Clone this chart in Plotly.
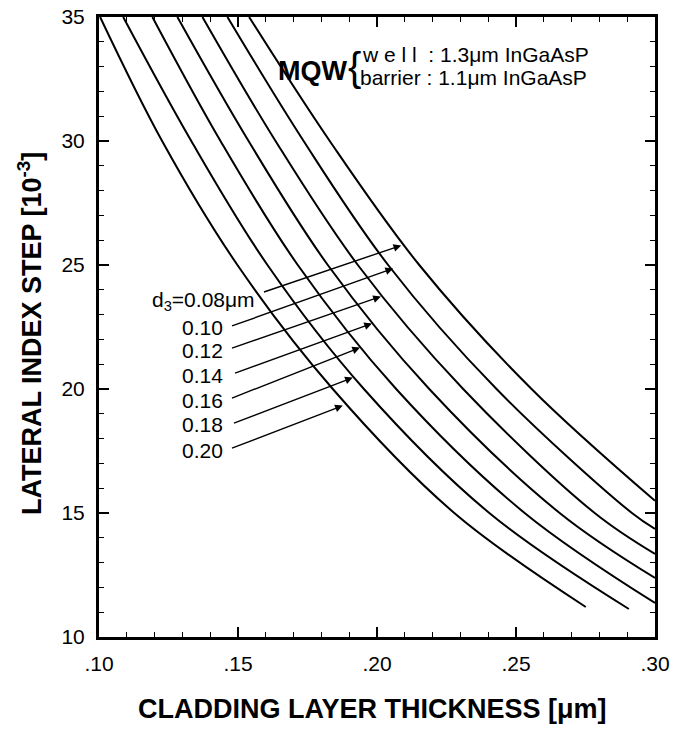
import plotly.graph_objects as go

# ---- data ----
d3_labels = ["0.08", "0.10", "0.12", "0.14", "0.16", "0.18", "0.20"]

x_008 = [0.1540, 0.1830, 0.2152, 0.2556, 0.3000]
y_008 = [35.0, 30.0, 25.0, 20.0, 15.49]

x_010 = [0.1462, 0.1736, 0.2040, 0.2430, 0.2917, 0.3000]
y_010 = [35.0, 30.0, 25.0, 20.0, 15.0, 14.36]

x_012 = [0.1372, 0.1635, 0.1931, 0.2310, 0.2783, 0.3000]
y_012 = [35.0, 30.0, 25.0, 20.0, 15.0, 13.35]

x_014 = [0.1282, 0.1538, 0.1823, 0.2188, 0.2657, 0.3000]
y_014 = [35.0, 30.0, 25.0, 20.0, 15.0, 12.38]

x_016 = [0.1192, 0.1437, 0.1715, 0.2069, 0.2531, 0.3000]
y_016 = [35.0, 30.0, 25.0, 20.0, 15.0, 11.37]

x_018 = [0.1087, 0.1332, 0.1606, 0.1953, 0.2404, 0.2906]
y_018 = [35.0, 30.0, 25.0, 20.0, 15.0, 11.13]

x_020 = [0.1004, 0.1227, 0.1498, 0.1841, 0.2278, 0.2751]
y_020 = [35.0, 30.0, 25.0, 20.0, 15.0, 11.21]

x_tickvals = [0.10, 0.15, 0.20, 0.25, 0.30]
x_ticktext = [".10", ".15", ".20", ".25", ".30"]
y_tickvals = [10, 15, 20, 25, 30, 35]

series_x = [x_008, x_010, x_012, x_014, x_016, x_018, x_020]
series_y = [y_008, y_010, y_012, y_014, y_016, y_018, y_020]

# ---- annotation layout (label anchor and arrow tail/tip, data units) ----
label_pos = [(0.1570, 23.53), (0.1455, 22.48), (0.1455, 21.55), (0.1455, 20.54),
             (0.1455, 19.53), (0.1455, 18.56), (0.1455, 17.51)]
arrow_tail = [(0.1588, 23.89), (0.1473, 22.52), (0.1473, 21.63), (0.1484, 20.62),
              (0.1473, 19.61), (0.1480, 18.60), (0.1473, 17.59)]
arrow_tip = [(0.2087, 25.79), (0.2058, 24.86), (0.2014, 23.73), (0.1982, 22.64),
             (0.1939, 21.67), (0.1913, 20.46), (0.1877, 19.33)]

FONT = "Liberation Sans, Arial, Helvetica, sans-serif"
W, H = 673, 729
L, R, T, B = 99, 18, 17, 92


def px2paper(px, py):
    return (px - L) / (W - L - R), 1 - (py - T) / (H - T - B)


fig = go.Figure()
for lab, xs, ys in zip(d3_labels, series_x, series_y):
    fig.add_trace(go.Scatter(x=xs, y=ys, mode="lines", name=lab,
                             line=dict(color="black", width=2, shape="spline"),
                             showlegend=False, hoverinfo="skip"))

annotations = []
for i, lab in enumerate(d3_labels):
    txt = "d<sub>3</sub>=" + lab + "\u03bcm" if i == 0 else lab
    annotations.append(dict(x=label_pos[i][0], y=label_pos[i][1], xref="x", yref="y",
                            text=txt, showarrow=False, xanchor="right", yanchor="middle",
                            font=dict(family=FONT, size=21, color="black")))
    annotations.append(dict(x=arrow_tip[i][0], y=arrow_tip[i][1], xref="x", yref="y",
                            ax=arrow_tail[i][0], ay=arrow_tail[i][1], axref="x", ayref="y",
                            text=" ", showarrow=True, arrowhead=2, arrowsize=1.1,
                            arrowwidth=1.4, arrowcolor="black", standoff=0, startstandoff=0,
                            font=dict(size=1)))

# MQW legend text
mqw = [
    dict(text="<b>MQW</b>", px=349, py=71, size=27, anchor="right"),
    dict(text="{", px=346, py=67, size=40, anchor="left"),
    dict(text="w e l l  : 1.3\u03bcm InGaAsP", px=360, py=55, size=21, anchor="left"),
    dict(text="barrier : 1.1\u03bcm InGaAsP", px=358, py=77, size=21, anchor="left"),
]
for m in mqw:
    xp, yp = px2paper(m["px"], m["py"])
    annotations.append(dict(
        x=xp, y=yp, xref="paper", yref="paper", text=m["text"], showarrow=False,
        xanchor=m["anchor"], yanchor="middle",
        font=dict(family=FONT, size=m["size"], color="black")))

# axis titles
xp, yp = px2paper(372, 709)
annotations.append(dict(x=xp, y=yp, xref="paper", yref="paper",
                        text="<b>CLADDING LAYER THICKNESS [\u03bcm]</b>", showarrow=False,
                        xanchor="center", yanchor="middle",
                        font=dict(family=FONT, size=27, color="black")))
xp, yp = px2paper(30, 334)
annotations.append(dict(x=xp, y=yp, xref="paper", yref="paper",
                        text="<b>LATERAL INDEX STEP [10<sup>-3</sup>]</b>", showarrow=False,
                        xanchor="center", yanchor="middle", textangle=-90,
                        font=dict(family=FONT, size=27, color="black")))

fig.update_layout(
    width=W, height=H,
    margin=dict(l=L, r=R, t=T, b=B, autoexpand=False),
    plot_bgcolor="white", paper_bgcolor="white",
    font=dict(family=FONT, color="black"),
    annotations=annotations,
    xaxis=dict(range=[0.10, 0.30], tickvals=x_tickvals, ticktext=x_ticktext,
               ticks="inside", ticklen=10, tickwidth=1.5, tickcolor="black",
               showline=True, linewidth=3, linecolor="black", mirror="allticks",
               showgrid=False, zeroline=False, ticklabelstandoff=6, automargin=False,
               tickfont=dict(family=FONT, size=21),
               minor=dict(ticks="inside", ticklen=5, tickwidth=1, dtick=0.01,
                          tickcolor="black", showgrid=False)),
    yaxis=dict(range=[10, 35], tickvals=y_tickvals,
               ticks="inside", ticklen=10, tickwidth=1.5, tickcolor="black",
               showline=True, linewidth=3, linecolor="black", mirror="allticks",
               showgrid=False, zeroline=False, ticklabelstandoff=7, automargin=False,
               tickfont=dict(family=FONT, size=21),
               minor=dict(ticks="inside", ticklen=5, tickwidth=1, dtick=1,
                          tickcolor="black", showgrid=False)),
)

fig.write_html("out.html", config={"displayModeBar": False},
               post_script="document.body.style.margin='0';document.body.style.overflow='hidden';")
